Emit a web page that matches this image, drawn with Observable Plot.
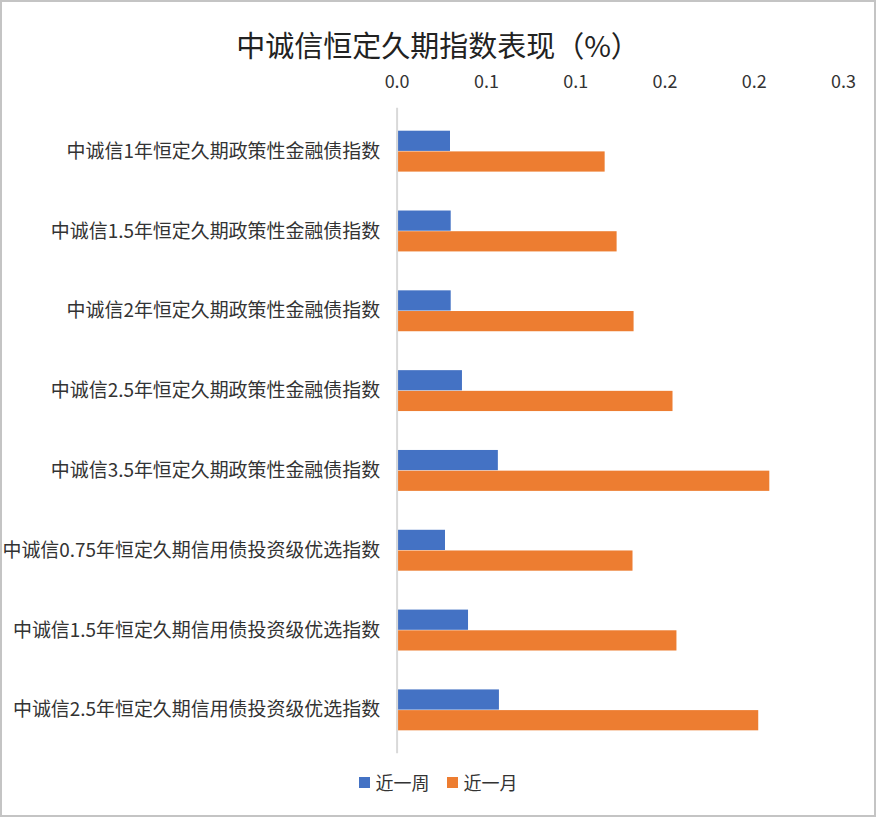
<!DOCTYPE html>
<html>
<head>
<meta charset="utf-8">
<script src="https://cdn.jsdelivr.net/npm/d3@7"></script>
<script src="https://cdn.jsdelivr.net/npm/@observablehq/plot@0.6"></script>
<style>
  html, body { margin: 0; padding: 0; background: #fff; }
  #chart {
    position: relative; width: 876px; height: 817px; box-sizing: border-box;
    border: 2px solid #c4c4c4; background: #fff; overflow: hidden;
    font-family: "Noto Sans CJK SC", "Noto Sans", sans-serif;
  }
  #title {
    position: absolute; left: 0; right: 0; top: 21px; text-align: center;
    font-size: 29px; color: #222;
  }
  #plot { position: absolute; left: -2px; top: -2px; }
  #legend {
    position: absolute; left: 0; right: 0; top: 767px; display: flex; justify-content: center;
    gap: 17px; font-size: 18px; color: #333; align-items: center;
  }
  .item { display: flex; align-items: center; gap: 6px; }
  .sw { width: 11px; height: 11px; display: inline-block; }
</style>
</head>
<body>
<div id="chart">
  <div id="title">中诚信恒定久期指数表现（%）</div>
  <div id="plot"></div>
  <div id="legend"></div>
</div>
<script>
const categories = [
  "中诚信1年恒定久期政策性金融债指数",
  "中诚信1.5年恒定久期政策性金融债指数",
  "中诚信2年恒定久期政策性金融债指数",
  "中诚信2.5年恒定久期政策性金融债指数",
  "中诚信3.5年恒定久期政策性金融债指数",
  "中诚信0.75年恒定久期信用债投资级优选指数",
  "中诚信1.5年恒定久期信用债投资级优选指数",
  "中诚信2.5年恒定久期信用债投资级优选指数"
];
const seriesNames = ["近一周", "近一月"];
const weekValues  = [0.0299, 0.0303, 0.0303, 0.0366, 0.0567, 0.0271, 0.0400, 0.0573];
const monthValues = [0.1165, 0.1232, 0.1327, 0.1545, 0.2087, 0.1321, 0.1567, 0.2025];
const colors = ["#4472C4", "#ED7D31"];
const tickValues = [0, 0.05, 0.10, 0.15, 0.20, 0.25];
const tickLabels = ["0.0", "0.1", "0.1", "0.2", "0.2", "0.3"];

const weekData = categories.map((c, i) => ({category: c, value: weekValues[i]}));
const monthData = categories.map((c, i) => ({category: c, value: monthValues[i]}));

const W = 876, H = 817;
const mTop = 108, mBottom = H - 755, mLeft = 397.5, mRight = W - 845;
const pad = 0.487;
const step = (H - mTop - mBottom) / categories.length;
const half = step * (1 - pad) / 2;

const plot = Plot.plot({
  width: W,
  height: H,
  marginTop: mTop,
  marginBottom: mBottom,
  marginLeft: mLeft,
  marginRight: mRight,
  style: {fontFamily: '"Noto Sans CJK SC", "Noto Sans", sans-serif', background: "transparent", color: "#333"},
  x: {domain: [0, 0.25], axis: "top", ticks: tickValues, tickSize: 0, tickPadding: 20,
      tickFormat: (d) => tickLabels[tickValues.findIndex(t => Math.abs(t - d) < 1e-9)], label: null},
  y: {domain: categories, paddingInner: pad, paddingOuter: pad / 2, tickSize: 0, tickPadding: 17, label: null},
  marks: [
    Plot.barX(weekData, {y: "category", x: "value", fill: colors[0], insetBottom: half}),
    Plot.barX(monthData, {y: "category", x: "value", fill: colors[1], insetTop: half}),
    Plot.ruleX([0], {stroke: "#d9d9d9", strokeWidth: 2})
  ]
});
plot.querySelectorAll('g[aria-label="x-axis tick label"]').forEach(el => el.setAttribute("font-size", "18"));
plot.querySelectorAll('g[aria-label="y-axis tick label"]').forEach(el => el.setAttribute("font-size", "19"));
document.getElementById("plot").appendChild(plot);

const legend = document.getElementById("legend");
seriesNames.forEach((name, i) => {
  const item = document.createElement("span");
  item.className = "item";
  const sw = document.createElement("span");
  sw.className = "sw";
  sw.style.background = colors[i];
  item.appendChild(sw);
  item.appendChild(document.createTextNode(name));
  legend.appendChild(item);
});
</script>
</body>
</html>
